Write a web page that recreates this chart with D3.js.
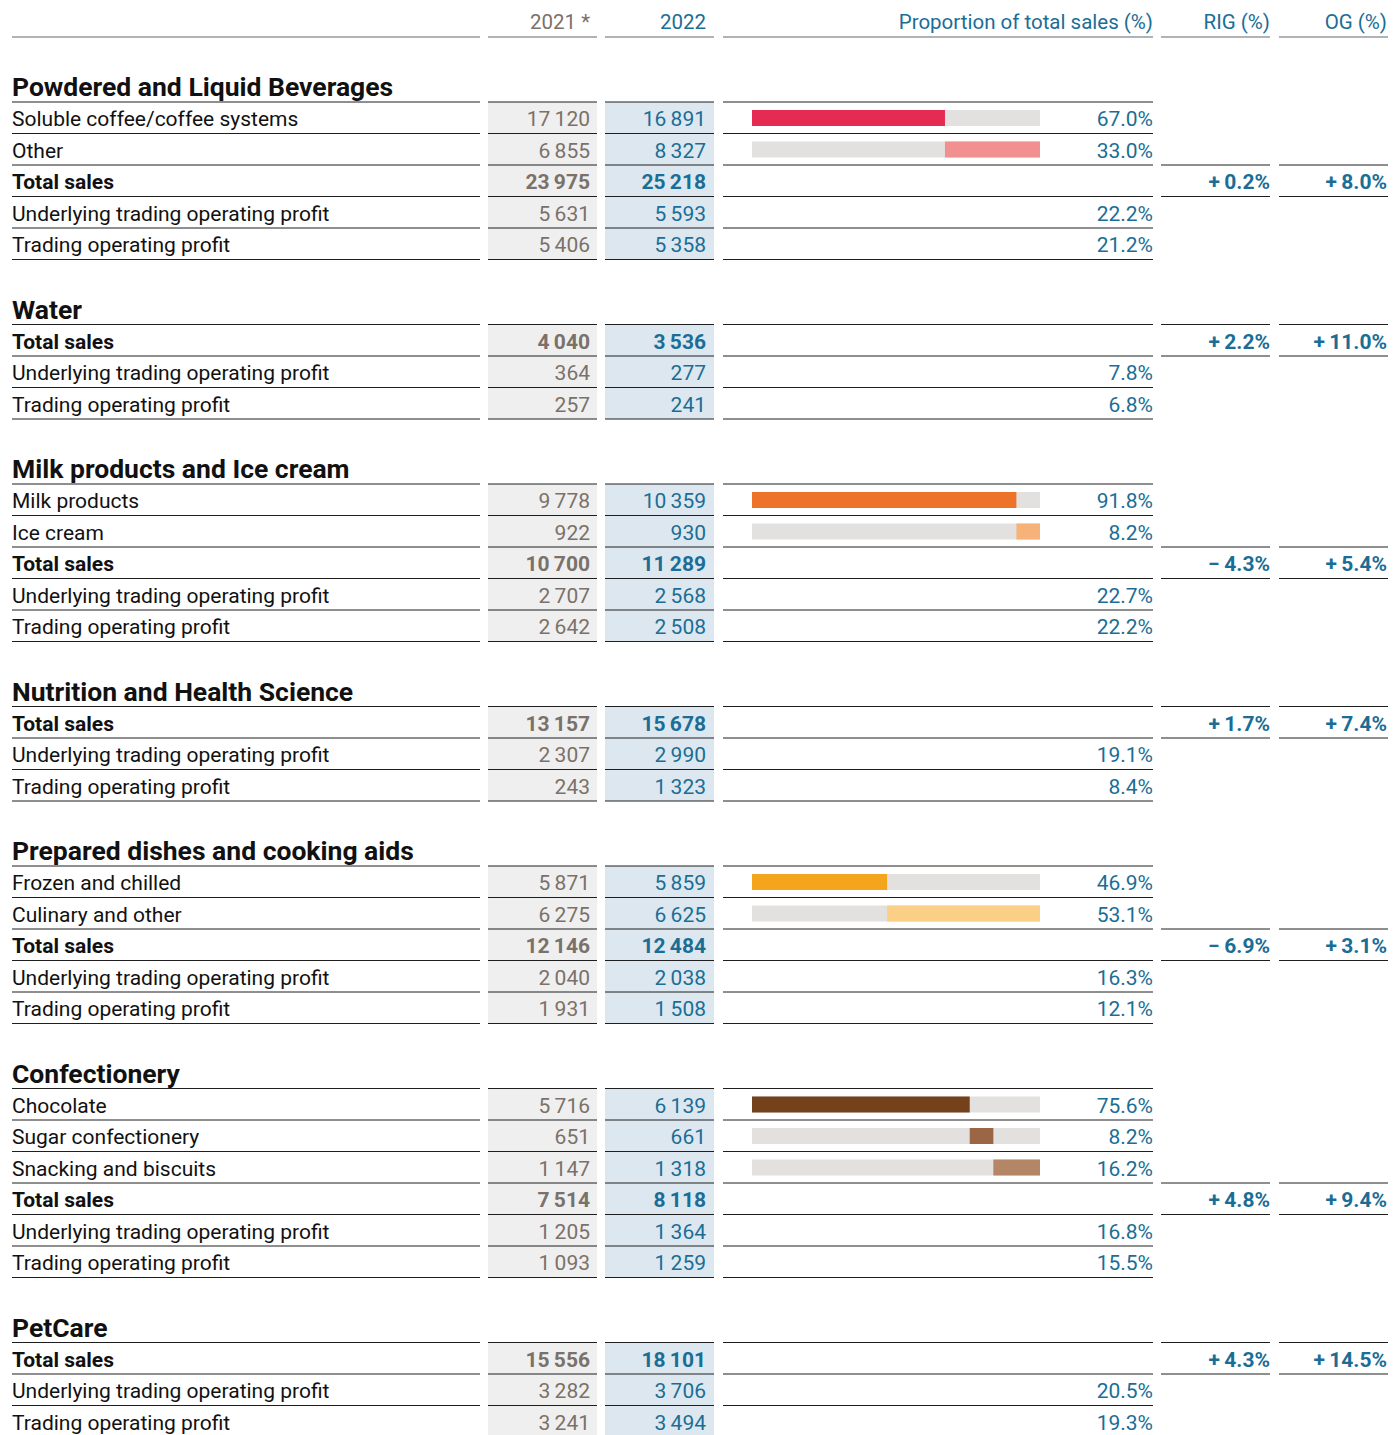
<!DOCTYPE html>
<html>
<head>
<meta charset="utf-8">
<script src="https://cdn.jsdelivr.net/npm/d3@7"></script>
<style>
  body { margin: 0; background: #fff; }
  svg { display: block; font-family: Roboto, "Noto Sans", sans-serif; }
</style>
</head>
<body>
<div id="chart"></div>
<script>
// operating segments and their figures (CHF millions)
const segments = ["Powdered and Liquid Beverages", "Water", "Milk products and Ice cream",
  "Nutrition and Health Science", "Prepared dishes and cooking aids", "Confectionery", "PetCare"];
const subLabels = [["Soluble coffee/coffee systems", "Other"], [], ["Milk products", "Ice cream"], [],
  ["Frozen and chilled", "Culinary and other"], ["Chocolate", "Sugar confectionery", "Snacking and biscuits"], []];
const sub2021 = [[17120, 6855], [], [9778, 922], [], [5871, 6275], [5716, 651, 1147], []];
const sub2022 = [[16891, 8327], [], [10359, 930], [], [5859, 6625], [6139, 661, 1318], []];
const subShare = [[67.0, 33.0], [], [91.8, 8.2], [], [46.9, 53.1], [75.6, 8.2, 16.2], []];
const total2021 = [23975, 4040, 10700, 13157, 12146, 7514, 15556];
const total2022 = [25218, 3536, 11289, 15678, 12484, 8118, 18101];
const utop2021 = [5631, 364, 2707, 2307, 2040, 1205, 3282];
const utop2022 = [5593, 277, 2568, 2990, 2038, 1364, 3706];
const utopMargin = [22.2, 7.8, 22.7, 19.1, 16.3, 16.8, 20.5];
const top2021 = [5406, 257, 2642, 243, 1931, 1093, 3241];
const top2022 = [5358, 241, 2508, 1323, 1508, 1259, 3494];
const topMargin = [21.2, 6.8, 22.2, 8.4, 12.1, 15.5, 19.3];
const rig = [0.2, 2.2, -4.3, 1.7, -6.9, 4.8, 4.3];
const og = [8.0, 11.0, 5.4, 7.4, 3.1, 9.4, 14.5];
const headers = ["2021 *", "2022", "Proportion of total sales (%)", "RIG (%)", "OG (%)"];

// bar colours per segment
const barColors = [["#e62b53", "#f28f8f"], [], ["#ed722a", "#f7b27a"], [],
  ["#f5a51b", "#fbd086"], ["#75411a", "#9a6644", "#b58665"], []];

const width = 1400, height = 1435;
const rowH = 31.5, titleH = 65, headLine = 37;
const grey = "#7a716a", blue = "#1a6e96";

// column extents
const cols = {
  label: [12, 480], y21: [488, 597], y22: [605, 714],
  prop: [723, 1153], rig: [1161, 1270], og: [1279, 1388]
};
const x = d3.scaleLinear().domain([0, 100]).range([752, 1040]);

const loc = d3.formatLocale({decimal: ".", thousands: "\u2009", grouping: [3], currency: ["", ""]});
const fmtNum = loc.format(",d");
const fmtPct = d => d.toFixed(1) + "%";
const fmtSign = d => (d < 0 ? "\u2212" : "+") + "\u2009" + Math.abs(d).toFixed(1) + "%";

const svg = d3.select("#chart").append("svg")
    .attr("width", width)
    .attr("height", height);

function hline(c, y, color, w) {
  svg.append("line")
     .attr("x1", cols[c][0]).attr("x2", cols[c][1])
     .attr("y1", y).attr("y2", y)
     .style("stroke", color || "#1e1e1e")
     .style("stroke-width", w || 1);
}

function txt(xp, y, s, opts) {
  opts = opts || {};
  return svg.append("text")
     .attr("x", xp).attr("y", y)
     .attr("text-anchor", opts.anchor || "end")
     .style("font-size", (opts.size || 21) + "px")
     .style("font-weight", opts.bold ? 700 : 400)
     .style("fill", opts.color || "#111")
     .text(s);
}

// header
txt(590, 29, headers[0], {color: grey, size: 20.5});
txt(706, 29, headers[1], {color: blue, size: 20.5});
txt(1153, 29, headers[2], {color: blue, size: 20.5});
txt(1270, 29, headers[3], {color: blue, size: 20.5});
txt(1387, 29, headers[4], {color: blue, size: 20.5});
Object.keys(cols).forEach(c => hline(c, headLine, "#666", 1.2));

let yPos = headLine;
segments.forEach((seg, si) => {
  yPos += titleH;
  const top = yPos;
  txt(12, top - 6, seg, {anchor: "start", size: 26.5, bold: true});

  // build the rows of this segment
  const rows = [];
  subLabels[si].forEach((l, j) => rows.push({
    label: l, a: sub2021[si][j], b: sub2022[si][j], share: subShare[si][j],
    start: d3.sum(subShare[si].slice(0, j)), color: barColors[si][j]
  }));
  rows.push({label: "Total sales", a: total2021[si], b: total2022[si], total: true});
  rows.push({label: "Underlying trading operating profit", a: utop2021[si], b: utop2022[si], pct: utopMargin[si]});
  rows.push({label: "Trading operating profit", a: top2021[si], b: top2022[si], pct: topMargin[si]});

  const bottom = top + rows.length * rowH;
  svg.append("rect").attr("x", cols.y21[0]).attr("width", cols.y21[1] - cols.y21[0])
     .attr("y", top).attr("height", bottom - top).style("fill", "#efefef");
  svg.append("rect").attr("x", cols.y22[0]).attr("width", cols.y22[1] - cols.y22[0])
     .attr("y", top).attr("height", bottom - top).style("fill", "#dde7f0");

  rows.forEach((r, i) => {
    const ry = top + i * rowH;
    const base = ry + rowH / 2 + 8.5;
    txt(12, base, r.label, {anchor: "start", bold: r.total});
    txt(590, base, fmtNum(r.a), {color: grey, bold: r.total});
    txt(706, base, fmtNum(r.b), {color: blue, bold: r.total});

    if (r.share != null) {
      svg.append("rect").attr("x", x(0)).attr("width", x(100) - x(0))
         .attr("y", ry + 8).attr("height", 16).style("fill", "#e2e1df");
      svg.append("rect").attr("x", x(r.start)).attr("width", x(r.start + r.share) - x(r.start))
         .attr("y", ry + 8).attr("height", 16).style("fill", r.color);
      txt(1153, base, fmtPct(r.share), {color: blue});
    }
    if (r.pct != null) txt(1153, base, fmtPct(r.pct), {color: blue});
    if (r.total) {
      txt(1270, base, fmtSign(rig[si]), {color: blue, bold: true});
      txt(1387, base, fmtSign(og[si]), {color: blue, bold: true});
      hline("rig", ry); hline("rig", ry + rowH);
      hline("og", ry); hline("og", ry + rowH);
    }
  });

  for (let i = 0; i <= rows.length; i++) {
    ["label", "y21", "y22", "prop"].forEach(c => hline(c, top + i * rowH));
  }
  yPos = bottom;
});
</script>
</body>
</html>
